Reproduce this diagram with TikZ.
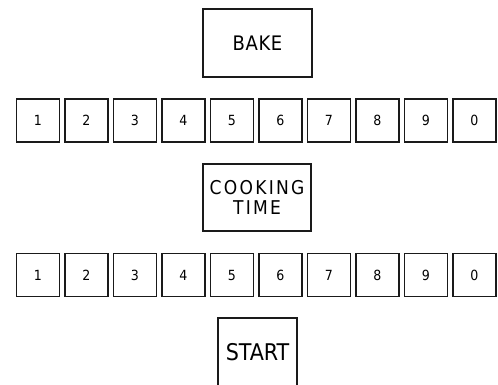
\documentclass[tikz,border=0pt]{standalone}
\usepackage{fontspec}
\usepackage{tikz}
\setmainfont{DejaVu Sans Condensed}
\definecolor{KeyLine}{HTML}{1A1A1A}

\begin{document}
\begin{tikzpicture}[x=1pt, y=-1pt,
    key/.style={draw=KeyLine, line width=1.2pt, minimum width=43pt, minimum height=43pt,
                inner sep=0pt, font=\fontsize{14}{14}\selectfont},
    panel/.style={draw=KeyLine, line width=1.2pt, inner sep=0pt, align=center,
                  text=black}
  ]
    \useasboundingbox (0,0) rectangle (498,384);
    \clip (0,0) rectangle (498,384);

    \node[panel, minimum width=109pt, minimum height=68pt,
          font=\fontsize{20}{20}\selectfont\addfontfeatures{LetterSpace=3}] (bake) at (257.5,43) {BAKE};

    \node[key] (top1) at (38,120.5) {1};
    \node[key] (top2) at (86.5,120.5) {2};
    \node[key] (top3) at (135,120.5) {3};
    \node[key] (top4) at (183.5,120.5) {4};
    \node[key] (top5) at (232,120.5) {5};
    \node[key] (top6) at (280.5,120.5) {6};
    \node[key] (top7) at (329,120.5) {7};
    \node[key] (top8) at (377.5,120.5) {8};
    \node[key] (top9) at (426,120.5) {9};
    \node[key] (top0) at (474.5,120.5) {0};

    \node[panel, minimum width=108pt, minimum height=67pt,
          font=\fontsize{19}{20}\selectfont\addfontfeatures{LetterSpace=12}] (cook) at (257,197.5) {COOKING\\TIME};

    \node[key] (bot1) at (38,275) {1};
    \node[key] (bot2) at (86.5,275) {2};
    \node[key] (bot3) at (135,275) {3};
    \node[key] (bot4) at (183.5,275) {4};
    \node[key] (bot5) at (232,275) {5};
    \node[key] (bot6) at (280.5,275) {6};
    \node[key] (bot7) at (329,275) {7};
    \node[key] (bot8) at (377.5,275) {8};
    \node[key] (bot9) at (426,275) {9};
    \node[key] (bot0) at (474.5,275) {0};

    \node[panel, minimum width=79pt, minimum height=68pt,
          font=\fontsize{23}{23}\selectfont] (start) at (257.5,352) {START};
  \end{tikzpicture}
\end{document}
